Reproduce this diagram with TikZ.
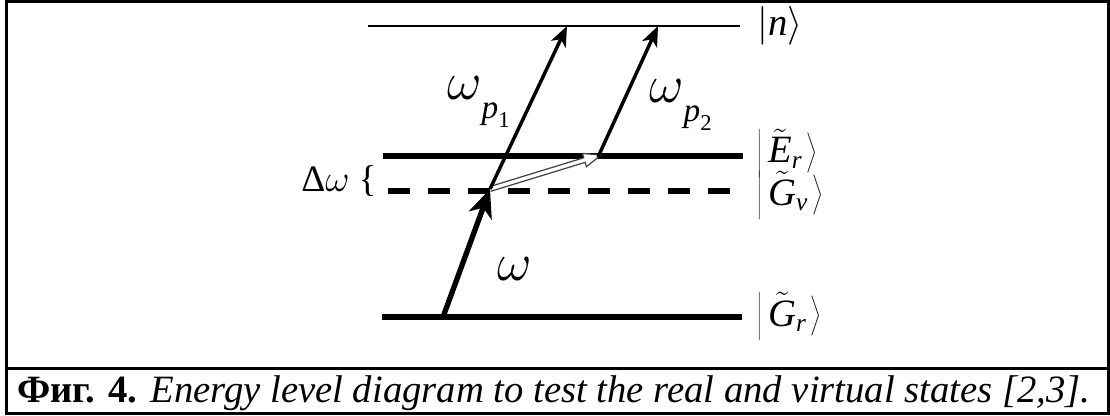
\RequirePackage{fix-cm}
\documentclass[tikz,border=0pt]{standalone}
\usepackage{fontspec}
\setmainfont{Liberation Serif}
\usetikzlibrary{arrows.meta,calc}
\newcommand{\omlabel}[1]{$\omega$\raisebox{-0.36em}{\fontsize{25}{27}\selectfont\textit{p}\raisebox{-0.28em}{\fontsize{17}{19}\selectfont #1}}}
\newcommand{\ketn}[1]{$\left|#1\right\rangle$}
\newcommand{\ketx}[1]{$\left|\vphantom{\tilde{\hbox{E}}_r}\mkern3mu#1\mkern2mu\right\rangle$}
\newcommand{\subx}[1]{\hbox{\fontsize{19}{21}\selectfont\textit{#1}}}
\begin{document}
\begin{tikzpicture}[x=0.75pt,y=-0.75pt,
  frame/.style={line width=2.3pt},
  thinlevel/.style={line width=2.2pt},
  thicklevel/.style={line width=4pt},
  virtlevel/.style={line width=4.5pt,dash pattern=on 16.5pt off 13.5pt},
  pumparrow/.style={line width=4pt,-{Stealth[length=21pt,width=18pt,inset=6pt]}},
  probearrow/.style={line width=2.6pt,-{Stealth[length=15pt,width=12pt,inset=4pt]}},
  hollow/.style={line width=0.9pt,draw=black!75,fill=white,line join=miter},
  ketlabel/.style={font=\fontsize{29}{33}\selectfont,anchor=west,inner sep=0pt},
  biglabel/.style={font=\fontsize{40}{44}\selectfont,inner sep=0pt},
  caption/.style={font=\fontsize{29}{32}\selectfont,anchor=base west,inner sep=0pt}]
\useasboundingbox (0,0) rectangle (1110,415);
% frame
\coordinate (fTL) at (6.5,1.5);
\coordinate (fBR) at (1108.5,413.5);
\coordinate (dL) at (6.5,368.5);
\coordinate (dR) at (1108.5,368.5);
\draw[frame] (fTL) rectangle (fBR);
\draw[frame] (dL) -- (dR);
% levels
\coordinate (nL) at (368,26);  \coordinate (nR) at (740,26);
\coordinate (eL) at (383,156); \coordinate (eR) at (743,156);
\coordinate (vL) at (388,191); \coordinate (vR) at (740,191);
\coordinate (gL) at (382,317); \coordinate (gR) at (742,317);
\draw[thinlevel] (nL) -- (nR);
\draw[thicklevel] (eL) -- (eR);
\draw[virtlevel] (vL) -- (vR);
\draw[line width=4.5pt] (gL) -- (gR);
% transition points
\coordinate (G0) at (443,317);
\coordinate (S) at (490,189);
\coordinate (T1) at (567,26);
\coordinate (B2) at (598,157);
\coordinate (T2) at (658,26);
\coordinate (H) at (601,155);
% hollow arrow
\coordinate (Bh) at ($(H)!13pt!(S)$);
\draw[hollow] ($(S)!1.8pt!90:(H)$) -- ($(Bh)!1.8pt!90:(H)$) -- ($(Bh)!5.2pt!90:(H)$)
  -- (H) -- ($(Bh)!5.2pt!-90:(H)$) -- ($(Bh)!1.8pt!-90:(H)$) -- ($(S)!1.8pt!-90:(H)$);
% arrows
\draw[pumparrow] (G0) -- (S);
\draw[probearrow] (S) -- (T1);
\draw[probearrow] (B2) -- (T2);
% labels
\node[biglabel,anchor=base west] (lp1) at (447,99) {\omlabel{1}};
\node[biglabel,anchor=base west] (lp2) at (649,102) {\omlabel{2}};
\node[biglabel,anchor=base west] (lw) at (497,280) {$\omega$};
\node[font=\fontsize{28}{32}\selectfont,anchor=base west,inner sep=0pt] (dw) at (301,191) {Δ$\omega$ \{};
\node[ketlabel] (kn) at (757,26) {\ketn{\hbox{\textit{n}}}};
\node[ketlabel] (ke) at (757,153) {\ketx{\tilde{\hbox{\textit{E}}}_{\subx{r}}}};
\node[ketlabel] (kv) at (757,195) {\ketx{\tilde{\hbox{\textit{G}}}_{\subx{v}}}};
\node[ketlabel] (kr) at (757,316) {\ketx{\tilde{\hbox{\textit{G}}}_{\subx{r}}}};
\node[caption] (cap) at (17,402) {\textbf{Фиг. 4.} \textit{Energy level diagram to test the real and virtual states [2,3].}};
\end{tikzpicture}
\end{document}
